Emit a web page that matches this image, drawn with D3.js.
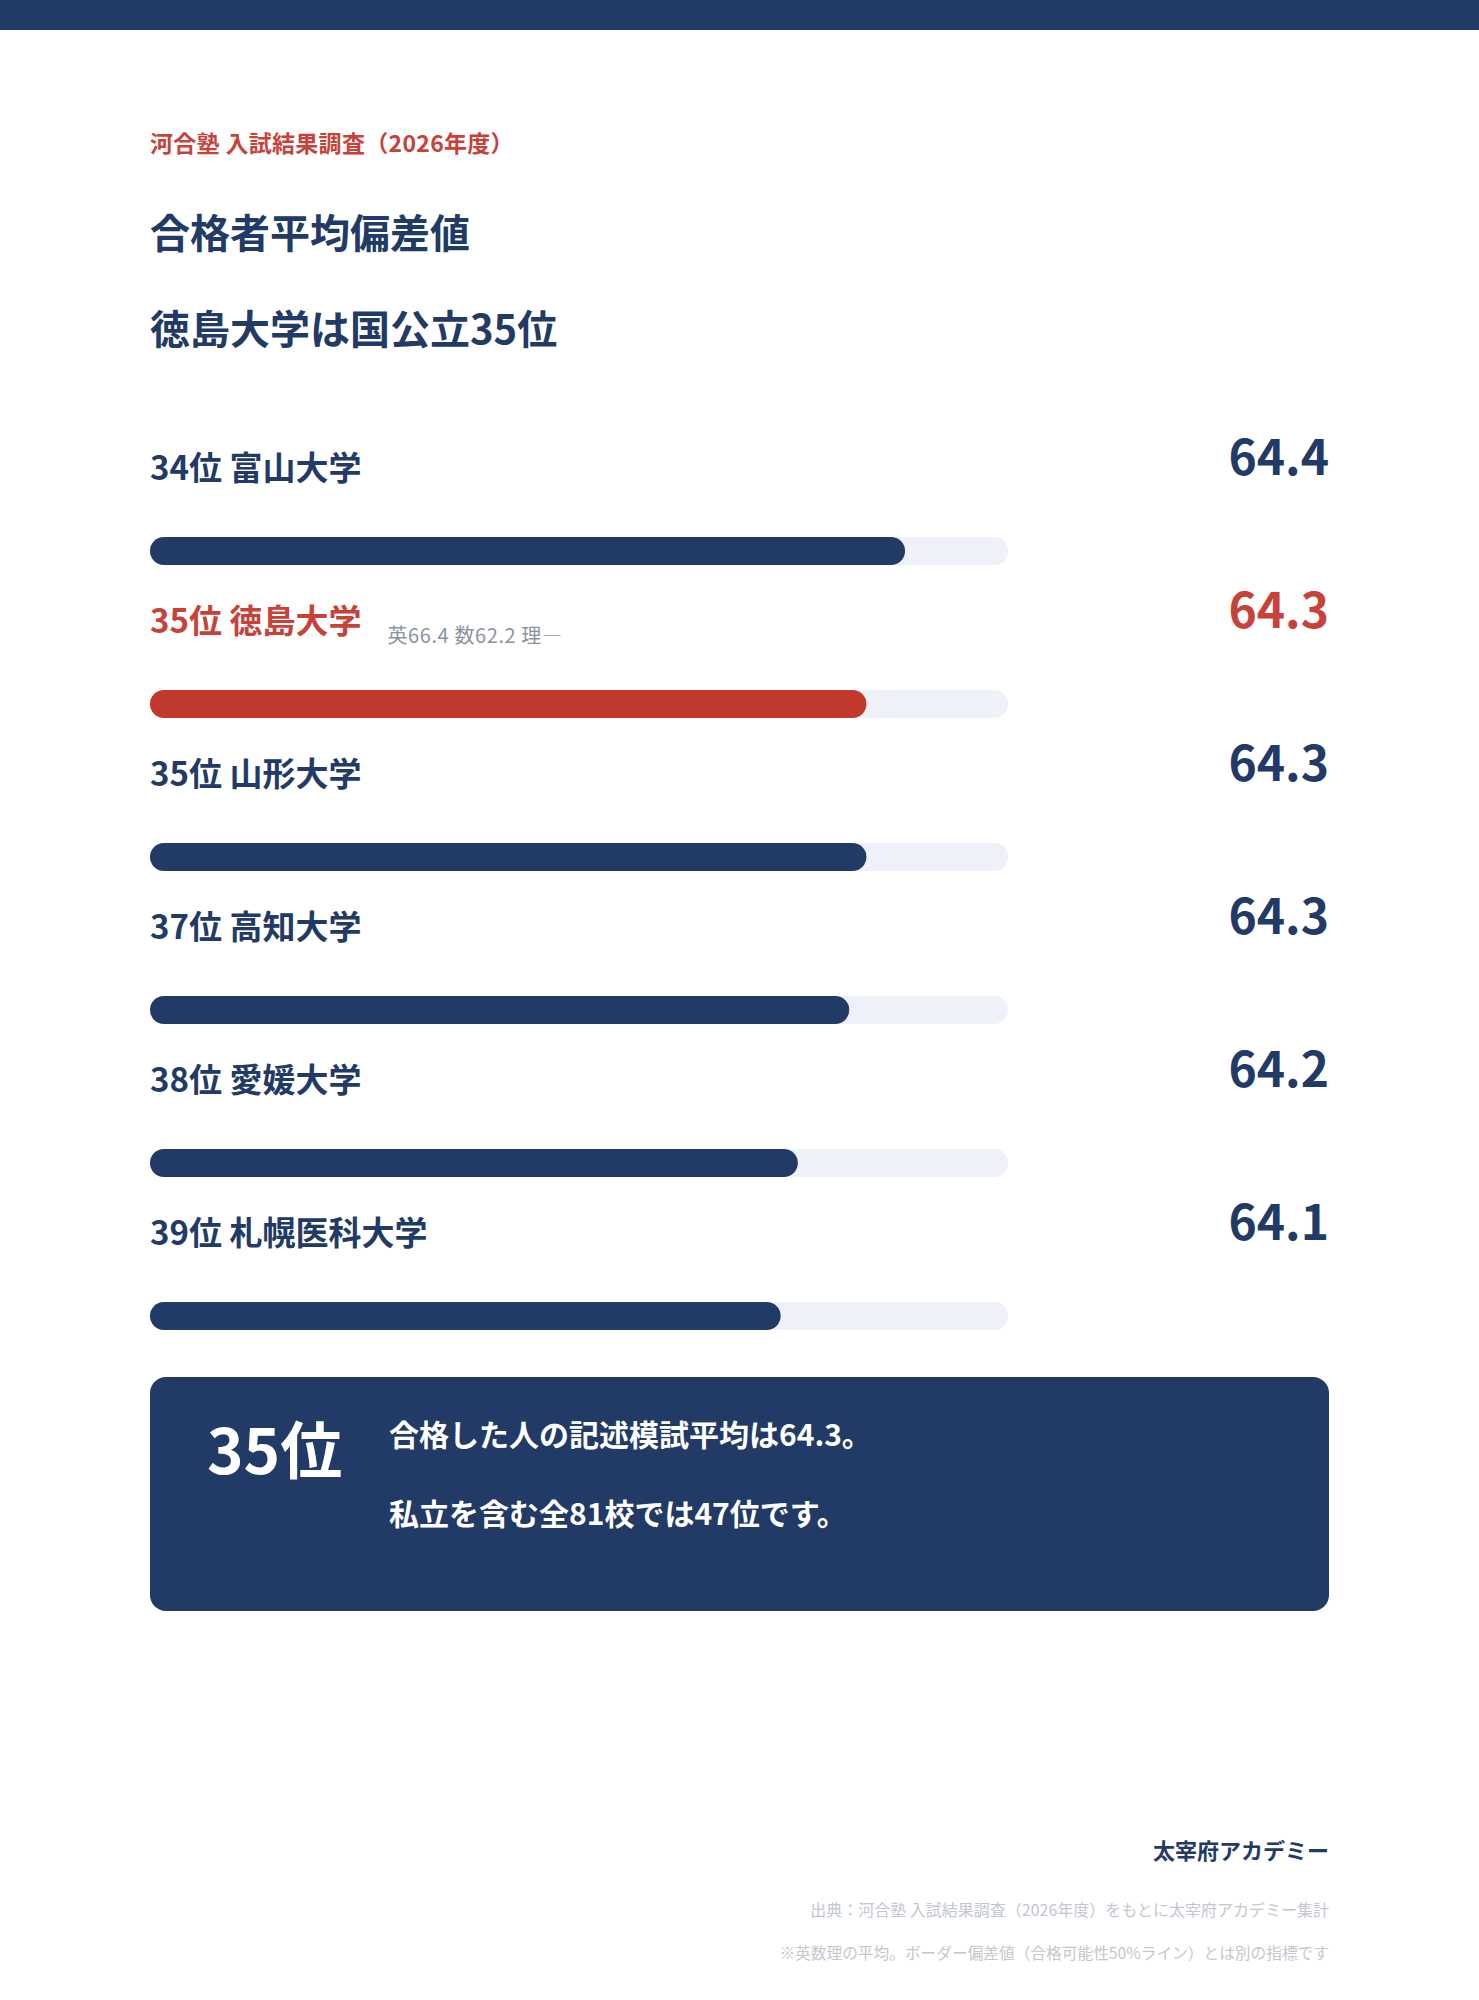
<!DOCTYPE html>
<html lang="ja">
<head>
<meta charset="utf-8">
<script src="https://cdn.jsdelivr.net/npm/d3@7"></script>
<style>
  html, body { margin: 0; padding: 0; background: #fff; }
  svg { display: block; font-family: "Noto Sans CJK JP", "Noto Sans", sans-serif; }
</style>
</head>
<body>
<div id="chart"></div>
<script>
// データ
const ranks = ["34位", "35位", "35位", "37位", "38位", "39位"];
const universities = ["富山大学", "徳島大学", "山形大学", "高知大学", "愛媛大学", "札幌医科大学"];
const scores = [64.41, 64.32, 64.32, 64.28, 64.16, 64.12];
const highlight = "徳島大学";
const subjectNames = ["英", "数", "理"];
const subjectScores = [66.4, 62.2, null];
const scoreDomain = [62.65, 64.65];

const width = 1479;
const height = 2000;
const left = 150;
const right = 1329;
const trackRight = 1008;

const navy = "#213a66";
const red = "#c0392b";
const redText = "#c8423a";
const track = "#eef1f8";

const svg = d3.select("#chart")
  .append("svg")
  .attr("width", width)
  .attr("height", height)
  .attr("viewBox", `0 0 ${width} ${height}`);

svg.append("rect").attr("width", width).attr("height", height).attr("fill", "#fff");
svg.append("rect").attr("width", width).attr("height", 30).attr("fill", navy);

// 見出し
svg.append("text")
  .attr("x", left).attr("y", 142)
  .attr("dominant-baseline", "central")
  .attr("fill", redText)
  .style("font-size", "23px").style("font-weight", 700)
  .style("letter-spacing", "0.3px")
  .text("河合塾 入試結果調査（2026年度）");

svg.append("text")
  .attr("x", left).attr("y", 231)
  .attr("dominant-baseline", "central")
  .attr("fill", navy)
  .style("font-size", "40px").style("font-weight", 700)
  .text("合格者平均偏差値");

svg.append("text")
  .attr("x", left).attr("y", 327)
  .attr("dominant-baseline", "central")
  .attr("fill", navy)
  .style("font-size", "40px").style("font-weight", 700)
  .text("徳島大学は国公立35位");

// スケール
const x = d3.scaleLinear().domain(scoreDomain).range([left, trackRight]);
const y = d3.scaleBand()
  .domain(universities)
  .range([430, 430 + 153 * universities.length])
  .paddingInner(0);

const rows = svg.selectAll(".row")
  .data(universities.map((u, i) => ({ name: u, rank: ranks[i], score: scores[i] })))
  .enter()
  .append("g")
  .attr("class", "row")
  .attr("transform", d => `translate(0, ${y(d.name)})`);

const barH = 28;

rows.append("rect")
  .attr("x", left).attr("y", 107)
  .attr("width", trackRight - left).attr("height", barH)
  .attr("rx", barH / 2)
  .attr("fill", track);

rows.append("rect")
  .attr("x", left).attr("y", 107)
  .attr("width", d => x(d.score) - left).attr("height", barH)
  .attr("rx", barH / 2)
  .attr("fill", d => d.name === highlight ? red : navy);

const labels = rows.append("text")
  .attr("x", left).attr("y", 36)
  .attr("dominant-baseline", "central")
  .attr("fill", d => d.name === highlight ? redText : navy)
  .style("font-size", "33px").style("font-weight", 700)
  .text(d => `${d.rank} ${d.name}`);

rows.append("text")
  .attr("x", right).attr("y", 24)
  .attr("text-anchor", "end")
  .attr("dominant-baseline", "central")
  .attr("fill", d => d.name === highlight ? redText : navy)
  .style("font-size", "48px").style("font-weight", 700)
  .text(d => d.score.toFixed(1));

// 科目別
labels.each(function(d) {
  if (d.name !== highlight) return;
  const w = this.getComputedTextLength();
  const note = subjectNames.map((s, i) => s + (subjectScores[i] == null ? "—" : subjectScores[i].toFixed(1))).join(" ");
  d3.select(this.parentNode).append("text")
    .attr("x", left + w + 26).attr("y", 51)
    .attr("dominant-baseline", "central")
    .attr("fill", "#8b93a1")
    .style("font-size", "20px")
    .style("letter-spacing", "0.6px")
    .text(note);
});

// まとめ
const box = svg.append("g");
box.append("rect")
  .attr("x", left).attr("y", 1377)
  .attr("width", right - left).attr("height", 234)
  .attr("rx", 16)
  .attr("fill", navy);

box.append("text")
  .attr("x", 207).attr("y", 1447)
  .attr("dominant-baseline", "central")
  .attr("fill", "#fff")
  .style("font-size", "62px").style("font-weight", 700)
  .text("35位");

box.append("text")
  .attr("x", 389).attr("y", 1433)
  .attr("dominant-baseline", "central")
  .attr("fill", "#fff")
  .style("font-size", "30px").style("font-weight", 700)
  .text(`合格した人の記述模試平均は${scores[1].toFixed(1)}。`);

box.append("text")
  .attr("x", 389).attr("y", 1512)
  .attr("dominant-baseline", "central")
  .attr("fill", "#fff")
  .style("font-size", "30px").style("font-weight", 700)
  .text("私立を含む全81校では47位です。");

// フッター
svg.append("text")
  .attr("x", right).attr("y", 1849)
  .attr("text-anchor", "end")
  .attr("dominant-baseline", "central")
  .attr("fill", navy)
  .style("font-size", "22px").style("font-weight", 700)
  .text("太宰府アカデミー");

svg.append("text")
  .attr("x", right).attr("y", 1909)
  .attr("text-anchor", "end")
  .attr("dominant-baseline", "central")
  .attr("fill", "#c3c7cf")
  .style("font-size", "16px")
  .text("出典：河合塾 入試結果調査（2026年度）をもとに太宰府アカデミー集計");

svg.append("text")
  .attr("x", right).attr("y", 1952)
  .attr("text-anchor", "end")
  .attr("dominant-baseline", "central")
  .attr("fill", "#c3c7cf")
  .style("font-size", "15.7px")
  .text("※英数理の平均。ボーダー偏差値（合格可能性50%ライン）とは別の指標です");
</script>
</body>
</html>
